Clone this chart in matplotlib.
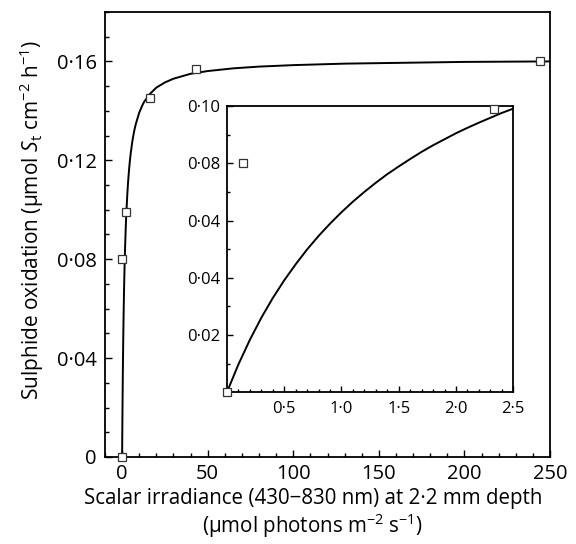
import matplotlib
matplotlib.use('Agg')
from matplotlib import pyplot as plt
from matplotlib.ticker import MultipleLocator, FixedLocator, FixedFormatter

plt.rcParams['font.family'] = ['Open Sans', 'DejaVu Sans']
plt.rcParams['mathtext.fontset'] = 'custom'
plt.rcParams['mathtext.rm'] = 'Open Sans'
plt.rcParams['mathtext.it'] = 'Open Sans:italic'

# measured points (irradiance, sulphide oxidation)
obs_x = [0, 0.14, 2.33, 16.3, 43.0, 244]
obs_y = [0, 0.080, 0.099, 0.145, 0.157, 0.1603]

# fitted curve
fit_x = [0, 0.1, 0.2, 0.3, 0.4, 0.5, 0.6, 0.7, 0.8, 0.9, 1.0, 1.1, 1.2, 1.3,
         1.4, 1.5, 1.6, 1.7, 1.8, 1.9, 2.0, 2.1, 2.2, 2.3, 2.4, 2.5,
         3, 3.5, 4, 4.5, 5, 6, 7, 8, 10, 12, 13, 16, 20, 25, 30, 40, 50, 65,
         80, 100, 130, 160, 200, 250]
fit_y = [0, 0.0097, 0.0183, 0.0260, 0.0329, 0.0391, 0.0447, 0.0499, 0.0546,
         0.0589, 0.0629, 0.0666, 0.0700, 0.0732, 0.0762, 0.0789, 0.0815,
         0.0840, 0.0863, 0.0884, 0.0905, 0.0924, 0.0942, 0.0959, 0.0976,
         0.0991, 0.1059, 0.1114, 0.1158, 0.1196, 0.1227, 0.1278, 0.1317,
         0.1347, 0.1393, 0.1425, 0.1438, 0.1467, 0.1494, 0.1515, 0.1530,
         0.1550, 0.1561, 0.1572, 0.1579, 0.1585, 0.1591, 0.1594, 0.1598,
         0.1600]

main_xticks = [0, 50, 100, 150, 200, 250]
main_yticks = [0, 0.04, 0.08, 0.12, 0.16]
main_ylabels = ['0', '0·04', '0·08', '0·12', '0·16']

inset_xticks = [0.5, 1.0, 1.5, 2.0, 2.5]
inset_xlabels = ['0·5', '1·0', '1·5', '2·0', '2·5']
inset_yticks = [0.02, 0.04, 0.06, 0.08, 0.10]
inset_ylabels = ['0·02', '0·04', '0·04', '0·08', '0·10']

fig = plt.figure(figsize=(5.76, 5.44), dpi=100)
ax = fig.add_axes([0.1823, 0.160, 0.7727, 0.818])

ax.plot(fit_x, fit_y, color='black', lw=1.4, zorder=2)
ax.plot(obs_x, obs_y, 's', ms=5.5, mfc='white', mec='#333333', mew=0.9,
        clip_on=False, zorder=3)

ax.set_xlim(-10, 250)
ax.set_ylim(0, 0.18)
ax.xaxis.set_major_locator(FixedLocator(main_xticks))
ax.xaxis.set_minor_locator(MultipleLocator(10))
ax.yaxis.set_major_locator(FixedLocator(main_yticks))
ax.yaxis.set_major_formatter(FixedFormatter(main_ylabels))
ax.yaxis.set_minor_locator(MultipleLocator(0.01))
ax.tick_params(which='both', direction='in', labelsize=14.5, width=1.0)
ax.tick_params(which='major', length=5)
ax.tick_params(which='minor', length=3)
ax.tick_params(axis='y', pad=6)
ax.tick_params(axis='x', pad=5)
for s in ax.spines.values():
    s.set_linewidth(1.3)

ax.set_ylabel('Sulphide oxidation (µmol $\\mathit{S}_\\mathrm{t}$ cm$^{-2}$ h$^{-1}$)',
              fontsize=15, labelpad=8)
ax.yaxis.label.set_y(0.533)
ax.set_xlabel('Scalar irradiance (430\u2212830 nm) at 2·2 mm depth\n'
              '(µmol photons m$^{-2}$ s$^{-1}$)', fontsize=14.8, labelpad=3,
              linespacing=1.12)
ax.xaxis.label.set_x(0.467)

# inset
ins = fig.add_axes([0.394, 0.279, 0.497, 0.526])
ins.plot(fit_x, fit_y, color='black', lw=1.4, zorder=2)
ins.plot(obs_x, obs_y, 's', ms=5.5, mfc='white', mec='#333333', mew=0.9,
         clip_on=False, zorder=3)
ins.set_xlim(0, 2.5)
ins.set_ylim(0, 0.10)
ins.xaxis.set_major_locator(FixedLocator(inset_xticks))
ins.xaxis.set_major_formatter(FixedFormatter(inset_xlabels))
ins.xaxis.set_minor_locator(MultipleLocator(0.1))
ins.yaxis.set_major_locator(FixedLocator(inset_yticks))
ins.yaxis.set_major_formatter(FixedFormatter(inset_ylabels))
ins.yaxis.set_minor_locator(MultipleLocator(0.01))
ins.tick_params(which='both', direction='in', labelsize=12, width=1.0)
ins.tick_params(which='major', length=4)
ins.tick_params(which='minor', length=2.5)
ins.tick_params(axis='y', pad=5)
ins.tick_params(axis='x', pad=6)
for s in ins.spines.values():
    s.set_linewidth(1.3)

fig.savefig('out.png', dpi=100)
